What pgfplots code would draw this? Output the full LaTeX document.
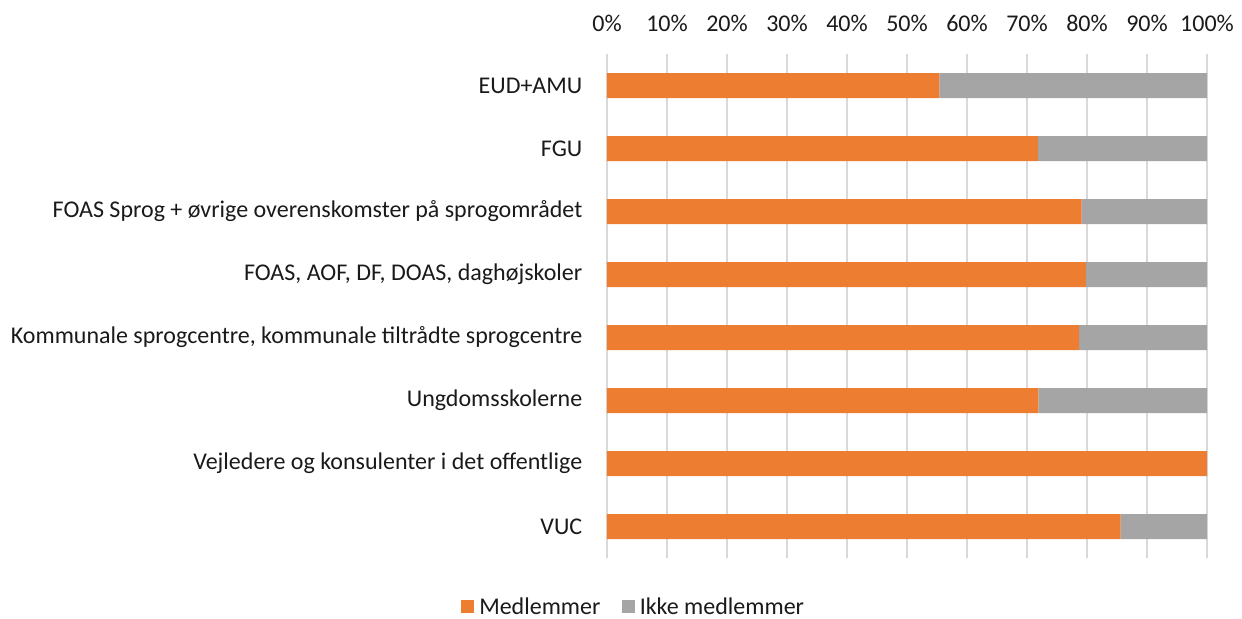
\documentclass[border=0pt]{standalone}
\usepackage{fontspec}
\setmainfont{Carlito}
\usepackage{pgfplots}
\pgfplotsset{compat=1.18}
\definecolor{medl}{HTML}{ED7D31}
\definecolor{ikke}{HTML}{A5A5A5}
\definecolor{gridc}{HTML}{D9D9D9}
\definecolor{txt}{HTML}{1A1A1A}

\begin{document}
\begin{tikzpicture}
% 1px = 0.75pt; image 1242x618, plot area 600x504 px at (607,54)
\path[use as bounding box] (-455.25pt,-45pt) rectangle (476.25pt,418.5pt);
\begin{axis}[
  xbar stacked,
  scale only axis,
  width=450pt, height=378pt,
  bar width=18.75pt,
  xmin=0, xmax=100,
  ymin=-0.5, ymax=7.5,
  xtick={0,10,...,100},
  xticklabel={\pgfmathprintnumber{\tick}\%},
  xticklabel pos=upper,
  ytick={0,...,7},
  yticklabels={VUC,
    Vejledere og konsulenter i det offentlige,
    Ungdomsskolerne,
    {Kommunale sprogcentre, kommunale tiltrådte sprogcentre},
    {FOAS, AOF, DF, DOAS, daghøjskoler},
    FOAS Sprog + øvrige overenskomster på sprogområdet,
    FGU,
    EUD+AMU},
  axis line style={draw=none},
  major tick length=0pt,
  xmajorgrids,
  grid style={gridc, line width=1.1pt},
  tick label style={font=\fontsize{18}{20}\selectfont, text=txt},
  /pgf/number format/assume math mode=true,
  xticklabel style={yshift=13.5pt},
  yticklabel style={xshift=-15pt},
  legend columns=2,
  legend style={draw=none, at={(0.045,-0.097)}, anchor=center,
    font=\fontsize{18}{20}\selectfont, text=txt,
    /tikz/every even column/.append style={column sep=14pt}},
  legend image code/.code={\fill[#1] (0pt,-4.9pt) rectangle (9.75pt,4.9pt);
    \path (11.5pt,0pt);},
]
\addplot[fill=medl, draw=none] coordinates {
  (85.6,0) (100,1) (71.9,2) (78.7,3) (79.8,4) (79.1,5) (71.8,6) (55.4,7)};
\addlegendentry{Medlemmer}
\addplot[fill=ikke, draw=none] coordinates {
  (14.4,0) (0,1) (28.1,2) (21.3,3) (20.2,4) (20.9,5) (28.2,6) (44.6,7)};
\addlegendentry{Ikke medlemmer}
\end{axis}
\end{tikzpicture}
\end{document}
